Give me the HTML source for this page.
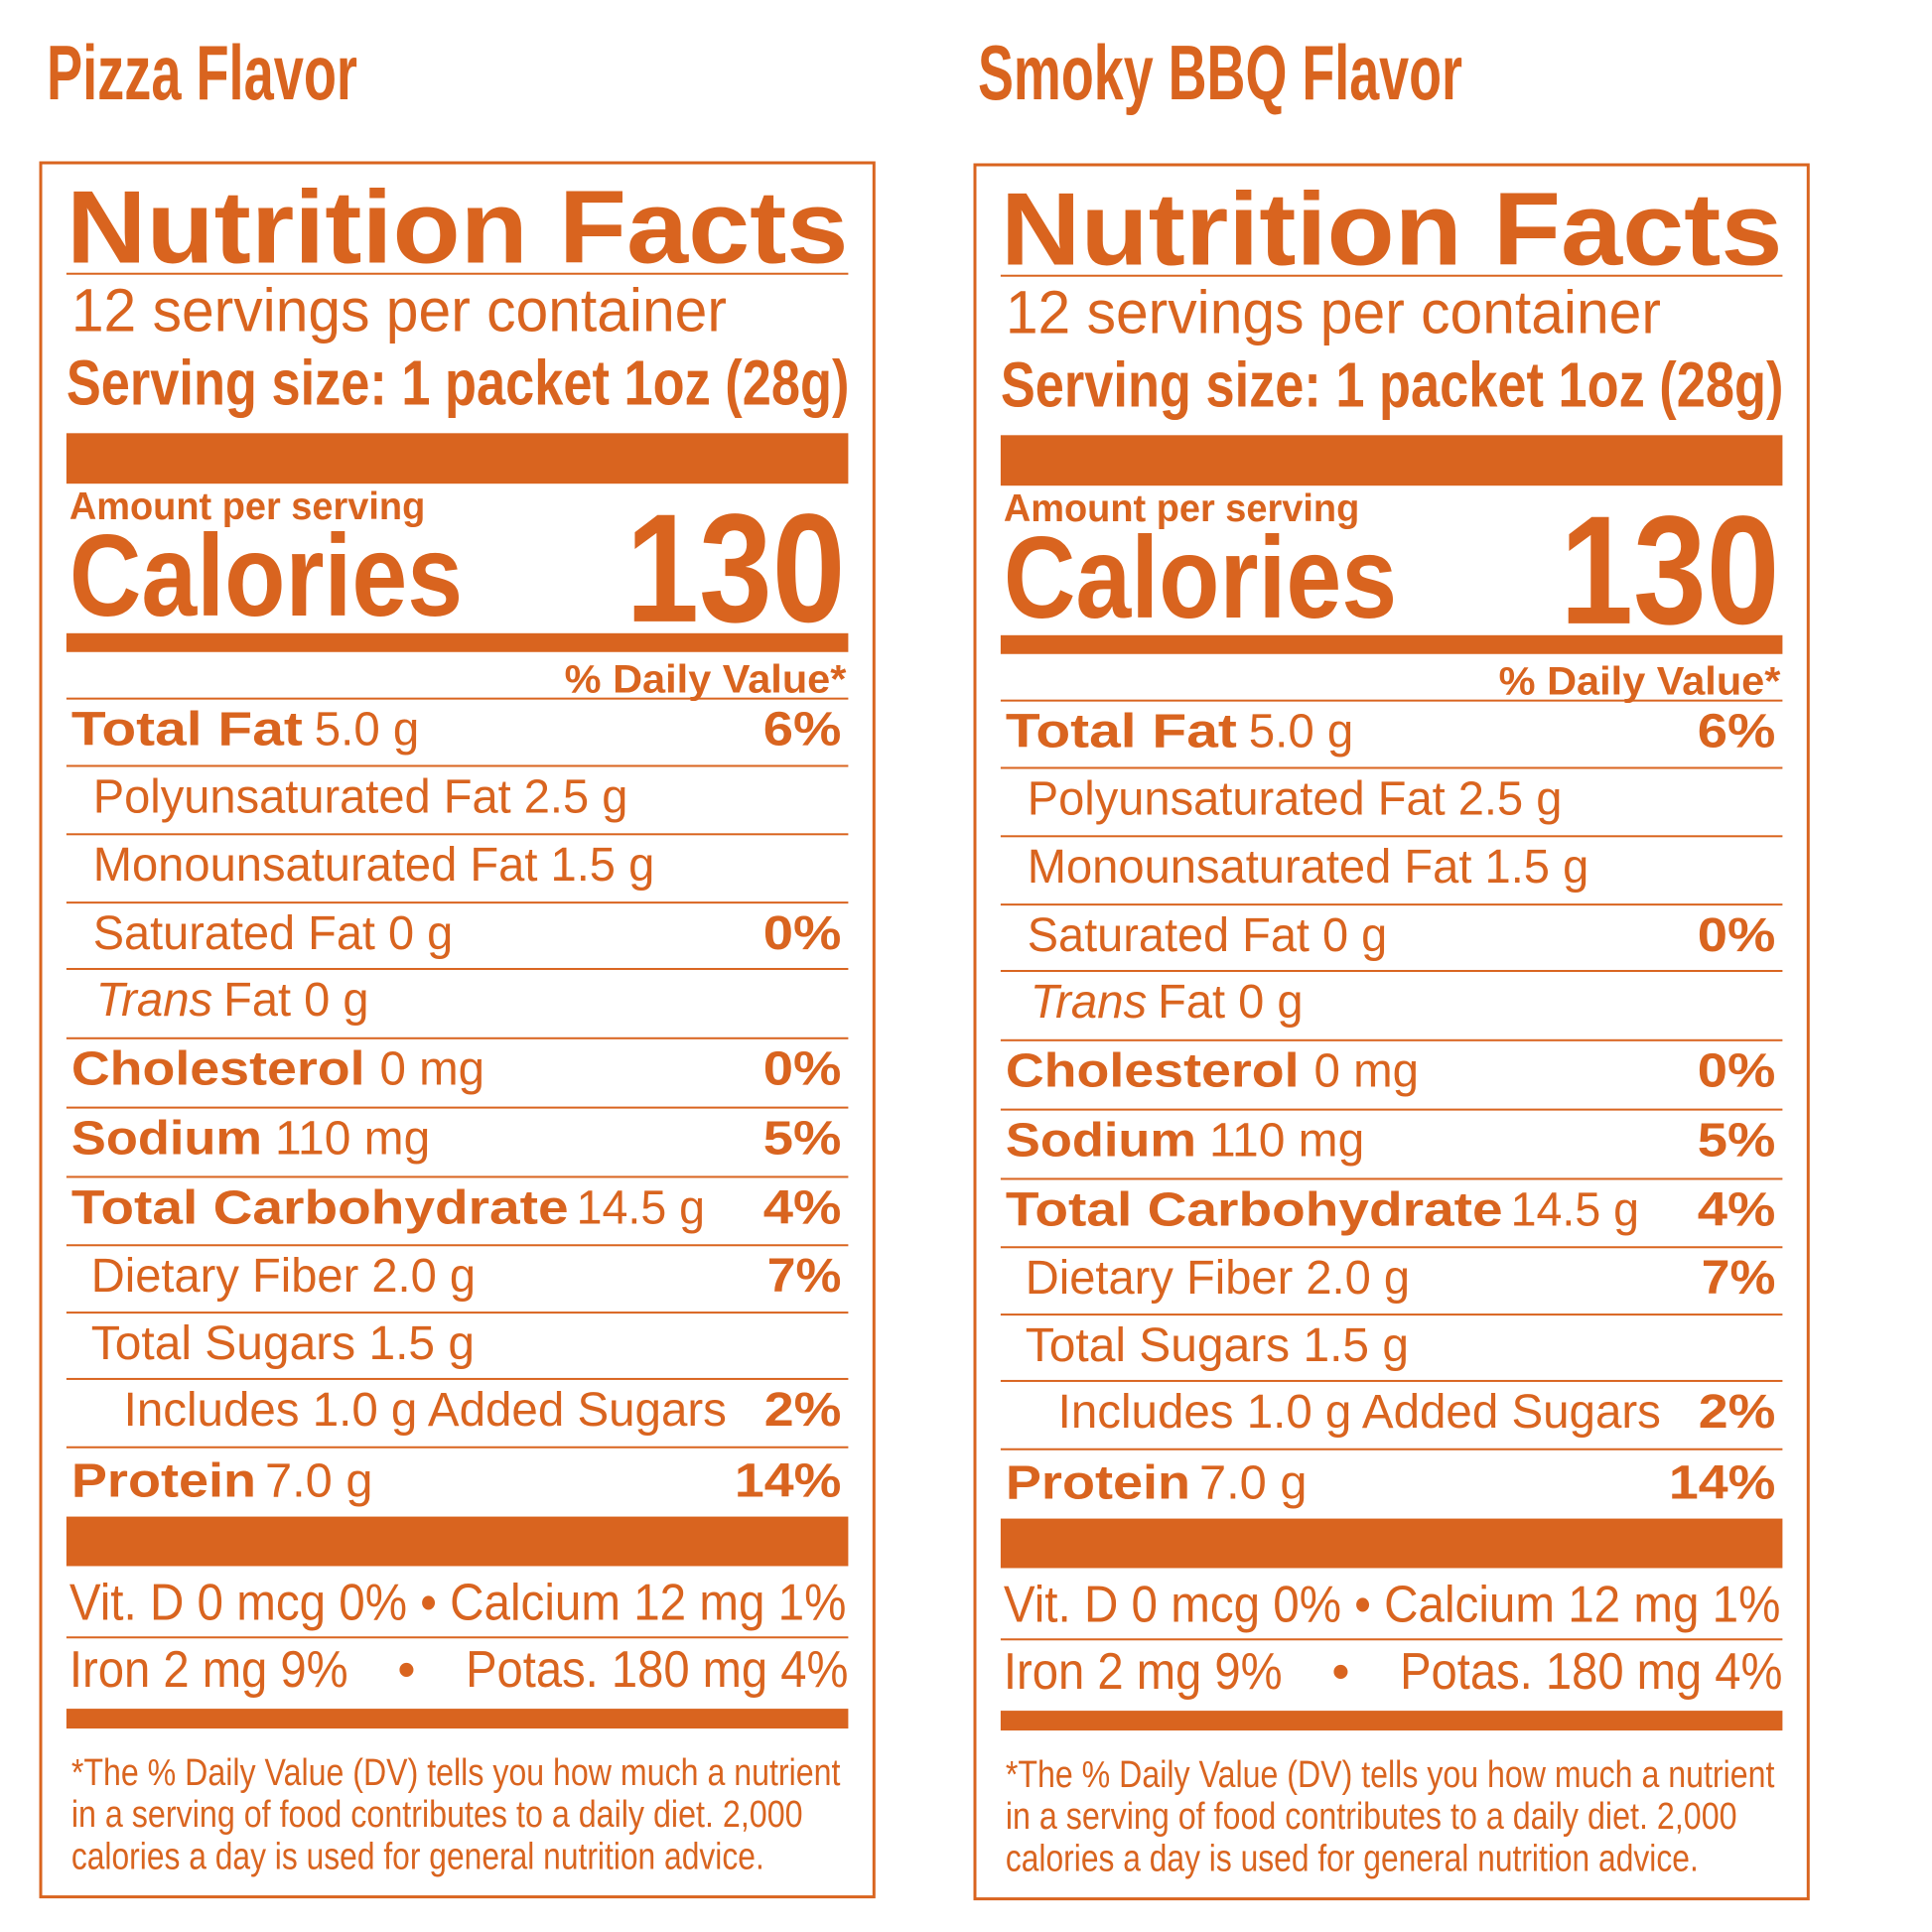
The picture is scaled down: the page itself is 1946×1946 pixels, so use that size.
<!DOCTYPE html>
<html><head><meta charset="utf-8"><style>
html,body{margin:0;padding:0;background:#fff;}
svg{display:block;}
text{font-family:"Liberation Sans",sans-serif;fill:#D9641F;}
.b{font-weight:bold;}
</style></head><body>
<svg width="1946" height="1946" viewBox="0 0 1946 1946" xmlns="http://www.w3.org/2000/svg">
<defs>
<g id="panel">
  <rect x="41" y="164" width="843" height="1751" fill="none" stroke="#D9641F" stroke-width="3"/>
  <text class="b" x="67" y="265" font-size="104" textLength="791" lengthAdjust="spacingAndGlyphs">Nutrition Facts</text>
  <rect x="67" y="275" width="791" height="2" fill="#D9641F"/>
  <text x="72" y="334" font-size="61" textLength="663" lengthAdjust="spacingAndGlyphs">12 servings per container</text>
  <text class="b" x="67" y="408" font-size="64" textLength="792" lengthAdjust="spacingAndGlyphs">Serving size: 1 packet 1oz (28g)</text>
  <rect x="67" y="437" width="791" height="51" fill="#D9641F"/>
  <text class="b" x="70" y="524" font-size="39" textLength="360" lengthAdjust="spacingAndGlyphs">Amount per serving</text>
  <text class="b" x="70" y="621" font-size="117" textLength="398" lengthAdjust="spacingAndGlyphs">Calories</text>
  <text class="b" x="633" y="627" font-size="156" textLength="222" lengthAdjust="spacingAndGlyphs">130</text>
  <rect x="67" y="639" width="791" height="19" fill="#D9641F"/>
  <text class="b" x="571" y="699" font-size="40" textLength="285" lengthAdjust="spacingAndGlyphs">% Daily Value*</text>
  <g fill="#D9641F">
    <rect x="67" y="704" width="791" height="2"/>
    <rect x="67" y="772" width="791" height="2"/>
    <rect x="67" y="841" width="791" height="2"/>
    <rect x="67" y="910" width="791" height="2"/>
    <rect x="67" y="977" width="791" height="2"/>
    <rect x="67" y="1047" width="791" height="2"/>
    <rect x="67" y="1117" width="791" height="2"/>
    <rect x="67" y="1187" width="791" height="2"/>
    <rect x="67" y="1256" width="791" height="2"/>
    <rect x="67" y="1324" width="791" height="2"/>
    <rect x="67" y="1391" width="791" height="2"/>
    <rect x="67" y="1460" width="791" height="2"/>
  </g>
  <text class="b" x="72" y="752" font-size="48" textLength="234" lengthAdjust="spacingAndGlyphs">Total Fat</text>
  <text x="318" y="752" font-size="48" textLength="106" lengthAdjust="spacingAndGlyphs">5.0 g</text>
  <text class="b" x="772" y="752" font-size="48" textLength="79" lengthAdjust="spacingAndGlyphs">6%</text>
  <text x="94" y="820" font-size="48" textLength="541" lengthAdjust="spacingAndGlyphs">Polyunsaturated Fat 2.5 g</text>
  <text x="94" y="889" font-size="48" textLength="568" lengthAdjust="spacingAndGlyphs">Monounsaturated Fat 1.5 g</text>
  <text x="94" y="958" font-size="48" textLength="364" lengthAdjust="spacingAndGlyphs">Saturated Fat 0 g</text>
  <text class="b" x="772" y="958" font-size="48" textLength="79" lengthAdjust="spacingAndGlyphs">0%</text>
  <text x="97" y="1025" font-size="48" font-style="italic" textLength="118" lengthAdjust="spacingAndGlyphs">Trans</text>
  <text x="226" y="1025" font-size="48" textLength="147" lengthAdjust="spacingAndGlyphs">Fat 0 g</text>
  <text class="b" x="72" y="1095" font-size="48" textLength="297" lengthAdjust="spacingAndGlyphs">Cholesterol</text>
  <text x="384" y="1095" font-size="48" textLength="106" lengthAdjust="spacingAndGlyphs">0 mg</text>
  <text class="b" x="772" y="1095" font-size="48" textLength="79" lengthAdjust="spacingAndGlyphs">0%</text>
  <text class="b" x="72" y="1165" font-size="48" textLength="193" lengthAdjust="spacingAndGlyphs">Sodium</text>
  <text x="278" y="1165" font-size="48" textLength="157" lengthAdjust="spacingAndGlyphs">110 mg</text>
  <text class="b" x="772" y="1165" font-size="48" textLength="79" lengthAdjust="spacingAndGlyphs">5%</text>
  <text class="b" x="72" y="1235" font-size="48" textLength="503" lengthAdjust="spacingAndGlyphs">Total Carbohydrate</text>
  <text x="583" y="1235" font-size="48" textLength="130" lengthAdjust="spacingAndGlyphs">14.5 g</text>
  <text class="b" x="772" y="1235" font-size="48" textLength="79" lengthAdjust="spacingAndGlyphs">4%</text>
  <text x="92" y="1304" font-size="48" textLength="389" lengthAdjust="spacingAndGlyphs">Dietary Fiber 2.0 g</text>
  <text class="b" x="776" y="1304" font-size="48" textLength="75" lengthAdjust="spacingAndGlyphs">7%</text>
  <text x="92" y="1372" font-size="48" textLength="388" lengthAdjust="spacingAndGlyphs">Total Sugars 1.5 g</text>
  <text x="125" y="1439" font-size="48" textLength="610" lengthAdjust="spacingAndGlyphs">Includes 1.0 g Added Sugars</text>
  <text class="b" x="773" y="1439" font-size="48" textLength="78" lengthAdjust="spacingAndGlyphs">2%</text>
  <text class="b" x="72" y="1511" font-size="48" textLength="187" lengthAdjust="spacingAndGlyphs">Protein</text>
  <text x="268" y="1511" font-size="48" textLength="109" lengthAdjust="spacingAndGlyphs">7.0 g</text>
  <text class="b" x="743" y="1511" font-size="48" textLength="108" lengthAdjust="spacingAndGlyphs">14%</text>
  <rect x="67" y="1531" width="791" height="50" fill="#D9641F"/>
  <text x="70" y="1635" font-size="52" textLength="786" lengthAdjust="spacingAndGlyphs">Vit. D 0 mcg 0% • Calcium 12 mg 1%</text>
  <rect x="67" y="1652" width="791" height="2" fill="#D9641F"/>
  <text x="70" y="1703" font-size="52" textLength="282" lengthAdjust="spacingAndGlyphs">Iron 2 mg 9%</text>
  <text x="402" y="1703" font-size="52">•</text>
  <text x="471" y="1703" font-size="52" textLength="387" lengthAdjust="spacingAndGlyphs">Potas. 180 mg 4%</text>
  <rect x="67" y="1725" width="791" height="20" fill="#D9641F"/>
  <text x="72" y="1802" font-size="38" textLength="778" lengthAdjust="spacingAndGlyphs">*The % Daily Value (DV) tells you how much a nutrient</text>
  <text x="72" y="1844" font-size="38" textLength="740" lengthAdjust="spacingAndGlyphs">in a serving of food contributes to a daily diet.  2,000</text>
  <text x="72" y="1887" font-size="38" textLength="701" lengthAdjust="spacingAndGlyphs">calories a day is used for general nutrition advice.</text>
</g>
</defs>
<text class="b" x="47" y="100" font-size="78" textLength="313" lengthAdjust="spacingAndGlyphs">Pizza Flavor</text>
<text class="b" x="985" y="100" font-size="78" textLength="488" lengthAdjust="spacingAndGlyphs">Smoky BBQ Flavor</text>
<use href="#panel" transform="translate(41,164) scale(0.9956,0.9975) translate(-41,-164)"/>
<use href="#panel" transform="translate(941,2) translate(41,164) scale(0.9956,0.9975) translate(-41,-164)"/>
</svg>
</body></html>
